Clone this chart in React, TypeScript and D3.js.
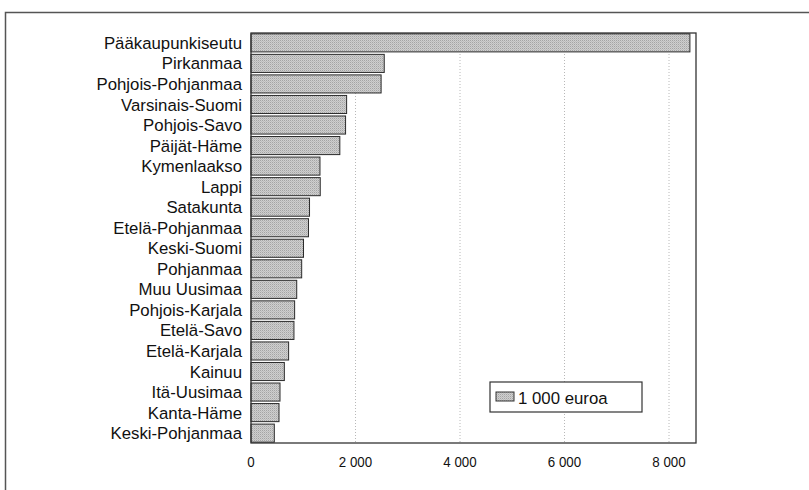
import React from "react";
import * as d3 from "d3";

const regions: string[] = [
  "Pääkaupunkiseutu",
  "Pirkanmaa",
  "Pohjois-Pohjanmaa",
  "Varsinais-Suomi",
  "Pohjois-Savo",
  "Päijät-Häme",
  "Kymenlaakso",
  "Lappi",
  "Satakunta",
  "Etelä-Pohjanmaa",
  "Keski-Suomi",
  "Pohjanmaa",
  "Muu Uusimaa",
  "Pohjois-Karjala",
  "Etelä-Savo",
  "Etelä-Karjala",
  "Kainuu",
  "Itä-Uusimaa",
  "Kanta-Häme",
  "Keski-Pohjanmaa",
];

const values: number[] = [
  8400, 2550, 2490, 1830, 1810, 1700, 1320, 1325, 1120, 1100,
  1005, 970, 875, 835, 822, 720, 638, 555, 536, 446,
];

const tickValues: number[] = [0, 2000, 4000, 6000, 8000];
const legendLabel = "1 000 euroa";

const W = 809;
const H = 490;
const plot = { left: 251, right: 696, top: 33, bottom: 443 };

export default function App() {
  const x = d3.scaleLinear().domain([0, 8000]).range([251, 669]);
  const y = d3
    .scaleBand<string>()
    .domain(regions)
    .range([plot.top, plot.bottom])
    .paddingInner(0.12)
    .paddingOuter(0.04);
  const fmt = (v: number) => d3.format(",")(v).replace(/,/g, " ");
  const font = "'Liberation Sans', Arial, Helvetica, sans-serif";

  return (
    <svg
      width={W}
      height={H}
      style={{ position: "absolute", left: 0, top: 0, background: "#fff" }}
      fontFamily={font}
    >
      <defs>
        <pattern id="stip" width="2" height="2" patternUnits="userSpaceOnUse">
          <rect width="2" height="2" fill="#cfcfcf" />
          <rect width="1" height="1" fill="#a4a4a4" />
          <rect x="1" y="1" width="1" height="1" fill="#bcbcbc" />
        </pattern>
      </defs>
      <rect width={W} height={H} fill="#fff" />
      {/* outer frame */}
      <path d={`M5.5,${H + 2} L5.5,12.5 L${W + 2},12.5`} fill="none" stroke="#555" strokeWidth={1.5} />
      {/* gridlines */}
      {tickValues.filter((t) => t > 0).map((t) => (
        <line
          key={"g" + t}
          x1={x(t)}
          x2={x(t)}
          y1={plot.top}
          y2={plot.bottom}
          stroke="#b8b8b8"
          strokeWidth={1}
          strokeDasharray="1,2"
        />
      ))}
      {/* bars */}
      {regions.map((r, i) => (
        <rect
          key={r}
          x={x(0)}
          y={y(r)!}
          width={x(values[i]) - x(0)}
          height={y.bandwidth()}
          fill="url(#stip)"
          stroke="#2a2a2a"
          strokeWidth={1}
        />
      ))}
      {/* plot frame */}
      <rect
        x={plot.left}
        y={plot.top}
        width={plot.right - plot.left}
        height={plot.bottom - plot.top}
        fill="none"
        stroke="#333"
        strokeWidth={1.3}
      />
      {/* category labels */}
      {regions.map((r) => (
        <text
          key={"l" + r}
          x={242}
          y={y(r)! + y.bandwidth() / 2}
          dy="0.36em"
          textAnchor="end"
          fontSize={16.8}
          fill="#111"
        >
          {r}
        </text>
      ))}
      {/* tick labels */}
      {tickValues.map((t) => (
        <text
          key={"t" + t}
          transform={`translate(${x(t)},467) scale(0.86,1)`}
          textAnchor="middle"
          fontSize={15.5}
          fill="#111"
        >
          {fmt(t)}
        </text>
      ))}
      {/* legend */}
      <g>
        <rect x={490} y={382} width={152} height={30} fill="#fff" stroke="#333" strokeWidth={1.2} />
        <rect x={496} y={392} width={18} height={9} fill="url(#stip)" stroke="#333" strokeWidth={1} />
        <text x={518} y={404} fontSize={16.8} fill="#111">
          {legendLabel}
        </text>
      </g>
    </svg>
  );
}
